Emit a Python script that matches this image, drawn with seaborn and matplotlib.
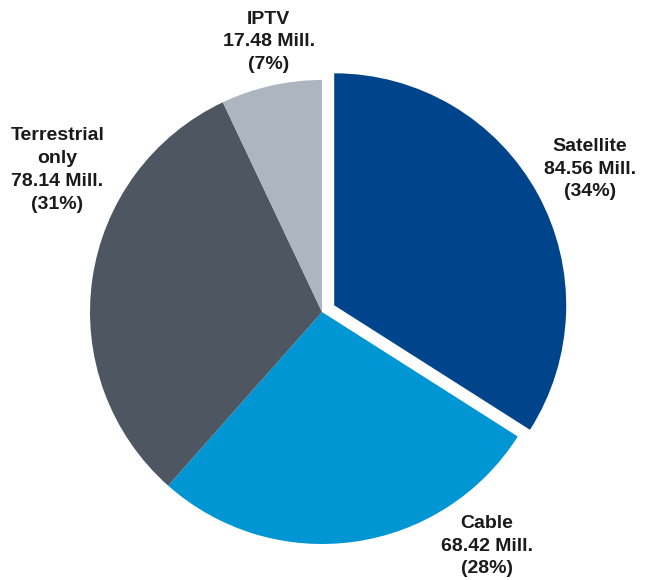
import matplotlib
matplotlib.use("Agg")
import matplotlib.pyplot as plt
import seaborn as sns

# data
categories = ["Satellite", "Cable", "Terrestrial\nonly", "IPTV"]
households = [84.56, 68.42, 78.14, 17.48]
colors = ["#00458B", "#0096D4", "#4E5761", "#ADB5BF"]
explode = [0.06, 0, 0, 0]

# label anchors (data units, pie radius = 1)
label_pos = [(1.155, 0.616), (0.71, -1.009), (-1.14, 0.612), (-0.23, 1.164)]

sns.set_theme(style="white")
plt.rcParams["font.family"] = ["Liberation Sans", "DejaVu Sans"]

fig = plt.figure(figsize=(6.51, 5.80), dpi=100)
ax = fig.add_axes([0, 0, 1, 1])

palette = sns.color_palette(colors)
ax.pie(households, colors=palette, explode=explode, startangle=90,
       counterclock=False, radius=1, wedgeprops=dict(linewidth=0))

total = sum(households)
for name, val, (x, y) in zip(categories, households, label_pos):
    pct = round(val / total * 100)
    ax.text(x, y, f"{name}\n{val:.2f} Mill.\n({pct}%)", ha="center", va="center",
            fontsize=14, fontweight="bold", color="#1a1a1a", linespacing=1.45)

scale = 232.0
ax.set_xlim(-322 / scale, (651 - 322) / scale)
ax.set_ylim(-(580 - 312) / scale, 312 / scale)
ax.set_aspect("auto")
ax.axis("off")

fig.savefig("out.png", dpi=100, facecolor="white")
